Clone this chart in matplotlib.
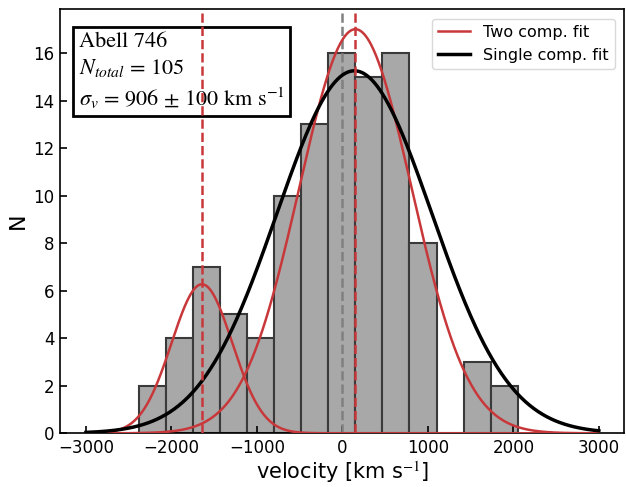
#!/usr/bin/env python3
"""Velocity histogram of Abell 746 with single- and two-component Gaussian fits."""

import matplotlib

matplotlib.use("Agg")
import matplotlib.pyplot as plt
import numpy as np

# histogram
BIN_EDGES = [-2375, -2059, -1743, -1427, -1111, -795, -479, -163,
             153, 469, 785, 1101, 1417, 1733, 2049]
COUNTS = [2, 4, 7, 5, 4, 10, 13, 16, 15, 16, 8, 0, 3, 2]

# fit parameters: (amplitude, mean, sigma)
SINGLE_FIT = (15.25, 140.0, 906.0)
TWO_FIT = [(6.27, -1643.0, 355.0), (17.0, 152.0, 658.0)]
CLUSTER_MEAN = 0.0

VEL_RANGE = (-3000, 3000)
INFO_LINES = ["Abell 746", r"$N_{total}$ = 105", r"$\sigma_v$ = 906 $\pm$ 100 km s$^{-1}$"]

RED = "#c8383a"


def gauss(x, amp, mu, sig):
    return amp * np.exp(-0.5 * ((x - mu) / sig) ** 2)


def main():
    plt.rcParams["mathtext.fontset"] = "stix"
    fig, ax = plt.subplots(figsize=(6.26, 4.87), dpi=100)
    fig.subplots_adjust(left=0.0963, right=0.9976, top=0.9815, bottom=0.1103)

    edges = np.array(BIN_EDGES, dtype=float)
    ax.bar(edges[:-1], COUNTS, width=np.diff(edges), align="edge",
           color="#a8a8a8", edgecolor="#3a3a3a", linewidth=1.5, zorder=1)

    x = np.linspace(*VEL_RANGE, 600)
    for i, (amp, mu, sig) in enumerate(TWO_FIT):
        ax.plot(x, gauss(x, amp, mu, sig), color=RED, lw=1.8,
                label="Two comp. fit" if i == 0 else None, zorder=3)
        ax.axvline(mu, color=RED, ls="--", lw=1.8, zorder=4)
    ax.plot(x, gauss(x, *SINGLE_FIT), color="black", lw=2.5,
            label="Single comp. fit", zorder=3)
    ax.axvline(CLUSTER_MEAN, color="gray", ls="--", lw=1.8, zorder=2)

    ax.set_xlabel(r"velocity [km s$^{-1}$]", fontsize=15, labelpad=2)
    ax.set_ylabel("N", fontsize=16, labelpad=4)
    ax.set_xticks(np.arange(-3000, 3001, 1000))
    ax.set_yticks(np.arange(0, 17, 2))
    ax.tick_params(direction="in", labelsize=12, length=5, width=1.2, pad=4)
    for spine in ax.spines.values():
        spine.set_linewidth(1.2)

    ax.text(0.033, 0.945, "\n".join(INFO_LINES), transform=ax.transAxes,
            va="top", ha="left", fontsize=16, family="STIXGeneral",
            linespacing=1.3,
            bbox=dict(boxstyle="square,pad=0.25", facecolor="white",
                      edgecolor="black", linewidth=2))

    leg = ax.legend(loc="upper right", fontsize=11.5, handlelength=2.0,
                    borderaxespad=0.6, fancybox=True)
    leg.get_frame().set_edgecolor("#d0d0d0")

    fig.savefig("out.png", dpi=100)


if __name__ == "__main__":
    main()
